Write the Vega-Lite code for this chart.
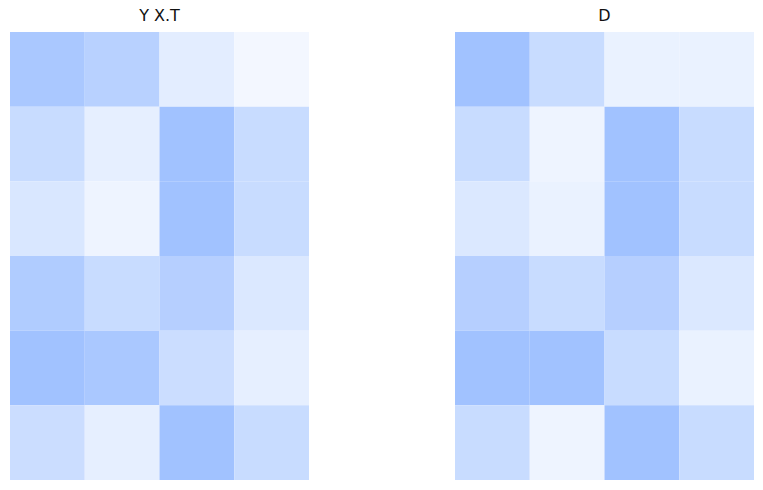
{
  "$schema": "https://vega.github.io/schema/vega-lite/v6.json",
  "padding": {"left": 10, "top": 8, "right": 0, "bottom": 0},
  "config": {"view": {"stroke": null}, "concat": {"spacing": 146}, "title": {"fontSize": 16, "fontWeight": "normal", "font": "DejaVu Sans", "color": "#111111", "offset": 8}},
  "data": {"values": [
    {"p":"Y X.T","r":1,"c":1,"v":0.9},{"p":"Y X.T","r":1,"c":2,"v":0.76},{"p":"Y X.T","r":1,"c":3,"v":0.3},{"p":"Y X.T","r":1,"c":4,"v":0.13},
    {"p":"Y X.T","r":2,"c":1,"v":0.58},{"p":"Y X.T","r":2,"c":2,"v":0.27},{"p":"Y X.T","r":2,"c":3,"v":1.0},{"p":"Y X.T","r":2,"c":4,"v":0.58},
    {"p":"Y X.T","r":3,"c":1,"v":0.4},{"p":"Y X.T","r":3,"c":2,"v":0.18},{"p":"Y X.T","r":3,"c":3,"v":1.0},{"p":"Y X.T","r":3,"c":4,"v":0.58},
    {"p":"Y X.T","r":4,"c":1,"v":0.84},{"p":"Y X.T","r":4,"c":2,"v":0.58},{"p":"Y X.T","r":4,"c":3,"v":0.78},{"p":"Y X.T","r":4,"c":4,"v":0.38},
    {"p":"Y X.T","r":5,"c":1,"v":1.0},{"p":"Y X.T","r":5,"c":2,"v":0.9},{"p":"Y X.T","r":5,"c":3,"v":0.55},{"p":"Y X.T","r":5,"c":4,"v":0.27},
    {"p":"Y X.T","r":6,"c":1,"v":0.55},{"p":"Y X.T","r":6,"c":2,"v":0.27},{"p":"Y X.T","r":6,"c":3,"v":1.0},{"p":"Y X.T","r":6,"c":4,"v":0.58},
    {"p":"D","r":1,"c":1,"v":1.0},{"p":"D","r":1,"c":2,"v":0.58},{"p":"D","r":1,"c":3,"v":0.22},{"p":"D","r":1,"c":4,"v":0.22},
    {"p":"D","r":2,"c":1,"v":0.58},{"p":"D","r":2,"c":2,"v":0.18},{"p":"D","r":2,"c":3,"v":1.0},{"p":"D","r":2,"c":4,"v":0.58},
    {"p":"D","r":3,"c":1,"v":0.38},{"p":"D","r":3,"c":2,"v":0.22},{"p":"D","r":3,"c":3,"v":1.0},{"p":"D","r":3,"c":4,"v":0.58},
    {"p":"D","r":4,"c":1,"v":0.78},{"p":"D","r":4,"c":2,"v":0.58},{"p":"D","r":4,"c":3,"v":0.78},{"p":"D","r":4,"c":4,"v":0.38},
    {"p":"D","r":5,"c":1,"v":1.0},{"p":"D","r":5,"c":2,"v":1.0},{"p":"D","r":5,"c":3,"v":0.58},{"p":"D","r":5,"c":4,"v":0.22},
    {"p":"D","r":6,"c":1,"v":0.58},{"p":"D","r":6,"c":2,"v":0.18},{"p":"D","r":6,"c":3,"v":1.0},{"p":"D","r":6,"c":4,"v":0.58}
  ]},
  "resolve": {"scale": {"color": "shared"}},
  "hconcat": [
    {
      "title": {"text": "Y X.T", "fontSize": 16},
      "width": 299, "height": 448,
      "transform": [{"filter": "datum.p === 'Y X.T'"}],
      "mark": {"type": "rect"},
      "encoding": {
        "x": {"field": "c", "type": "ordinal", "axis": null, "scale": {"paddingInner": 0, "paddingOuter": 0}},
        "y": {"field": "r", "type": "ordinal", "axis": null, "scale": {"paddingInner": 0, "paddingOuter": 0}},
        "color": {"field": "v", "type": "quantitative", "legend": null, "scale": {"domain": [0, 1], "range": ["#ffffff", "#a1c2ff"], "interpolate": "rgb"}}
      }
    },
    {
      "title": {"text": "D", "fontSize": 16},
      "width": 299, "height": 448,
      "transform": [{"filter": "datum.p === 'D'"}],
      "mark": {"type": "rect"},
      "encoding": {
        "x": {"field": "c", "type": "ordinal", "axis": null, "scale": {"paddingInner": 0, "paddingOuter": 0}},
        "y": {"field": "r", "type": "ordinal", "axis": null, "scale": {"paddingInner": 0, "paddingOuter": 0}},
        "color": {"field": "v", "type": "quantitative", "legend": null, "scale": {"domain": [0, 1], "range": ["#ffffff", "#a1c2ff"], "interpolate": "rgb"}}
      }
    }
  ]
}
